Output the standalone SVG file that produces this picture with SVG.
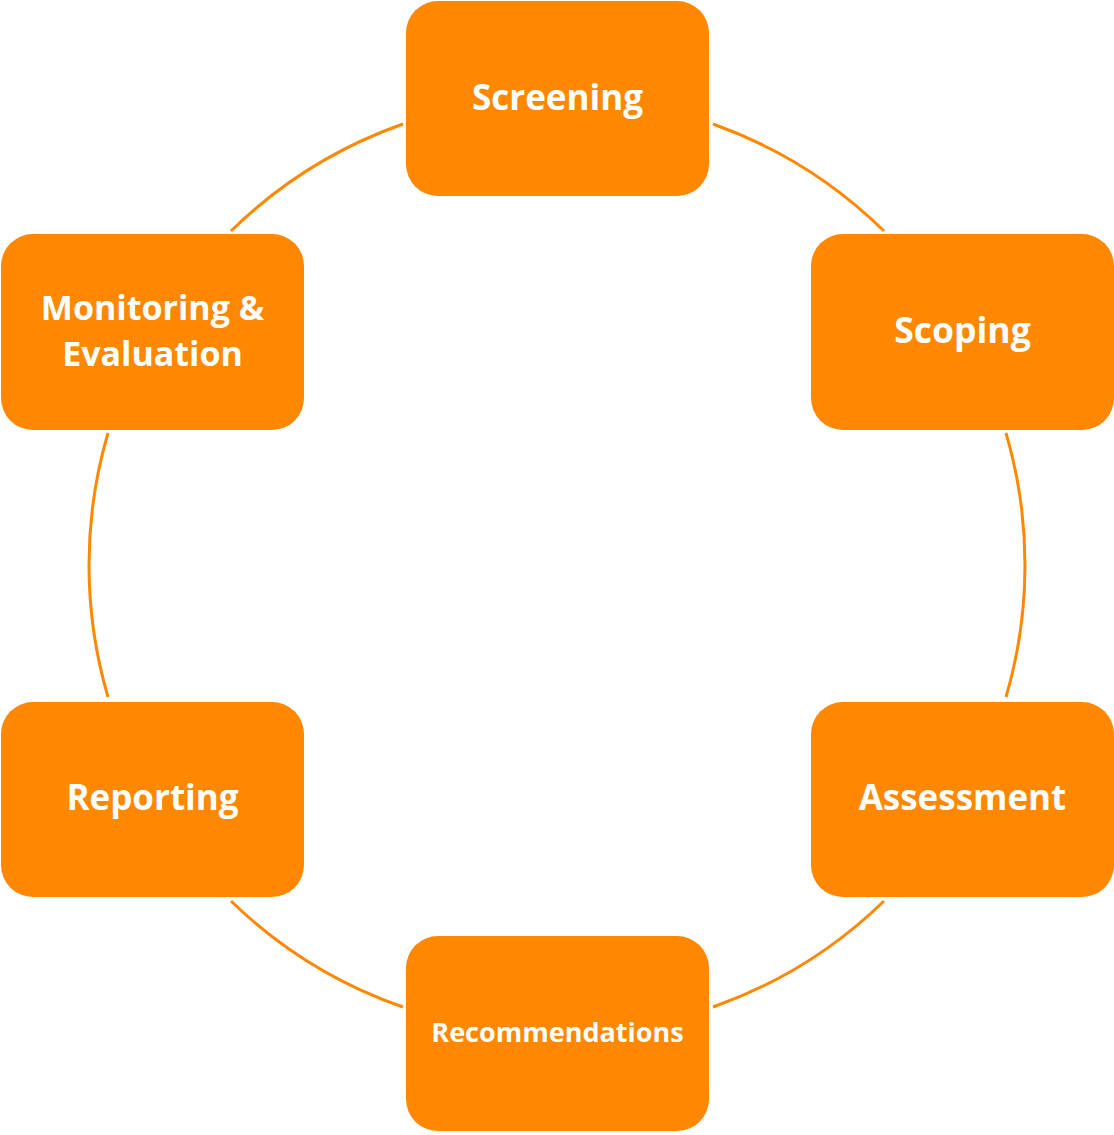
<svg xmlns="http://www.w3.org/2000/svg" width="1114" height="1135" viewBox="0 0 1114 1135">
<style>
.box{fill:#FF8800;}
.lbl{fill:#FFFFFF;font-family:"Open Sans","Noto Sans",sans-serif;font-weight:700;text-anchor:middle;}
.arc{fill:none;stroke:#FF8800;stroke-width:3;}
</style>
<rect width="1114" height="1135" fill="#FFFFFF"/>
<g id="connectors">
<path class="arc" d="M713,124 A468,468 0 0 1 884,231"/>
<path class="arc" d="M1006,433 A468,468 0 0 1 1006,697"/>
<path class="arc" d="M884,901 A468,468 0 0 1 713,1007"/>
<path class="arc" d="M403,1007 A468,468 0 0 1 231,901"/>
<path class="arc" d="M108,697 A468,468 0 0 1 108,433"/>
<path class="arc" d="M231,231 A468,468 0 0 1 403,124"/>
</g>
<g id="screening">
<rect class="box" x="406" y="1" width="303" height="195" rx="32"/>
<text class="lbl" x="557.5" y="110" font-size="35">Screening</text>
</g>
<g id="scoping">
<rect class="box" x="811" y="234" width="303" height="196" rx="32"/>
<text class="lbl" x="962.5" y="343" font-size="35.5">Scoping</text>
</g>
<g id="assessment">
<rect class="box" x="811" y="702" width="303" height="195" rx="32"/>
<text class="lbl" x="962.5" y="810" font-size="35">Assessment</text>
</g>
<g id="recommendations">
<rect class="box" x="406" y="936" width="303" height="195" rx="32"/>
<text class="lbl" x="557.5" y="1042" font-size="27">Recommendations</text>
</g>
<g id="reporting">
<rect class="box" x="1" y="702" width="303" height="195" rx="32"/>
<text class="lbl" x="152.5" y="810" font-size="35">Reporting</text>
</g>
<g id="monitoring">
<rect class="box" x="1" y="234" width="303" height="196" rx="32"/>
<text class="lbl" x="152.5" y="320" font-size="34">Monitoring &amp;</text>
<text class="lbl" x="152.5" y="366" font-size="34">Evaluation</text>
</g>
</svg>
